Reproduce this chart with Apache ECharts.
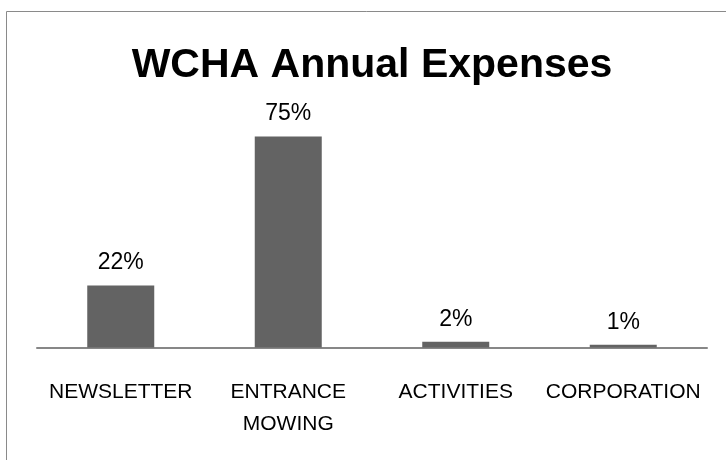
<!DOCTYPE html>
<html>
<head>
<meta charset="utf-8">
<script src="https://cdn.jsdelivr.net/npm/echarts@6/dist/echarts.min.js"></script>
<style>
  html, body { margin: 0; padding: 0; background: #fff; }
  #chart { width: 726px; height: 460px; }
</style>
</head>
<body>
<div id="chart"></div>
<script>
const categories = ['NEWSLETTER', 'ENTRANCE\nMOWING', 'ACTIVITIES', 'CORPORATION'];
const expenseShares = [22, 75, 2, 1];

const font = '"Liberation Sans", Arial, sans-serif';
const chart = echarts.init(document.getElementById('chart'));

const option = {
  backgroundColor: '#ffffff',
  animation: false,
  title: {
    text: 'WCHA Annual Expenses',
    left: 367,
    textAlign: 'center',
    top: 40,
    textStyle: {
      fontFamily: font,
      fontSize: 41,
      fontWeight: 'bold',
      color: '#000'
    }
  },
  // outer chart frame, cut off by the picture on the right and bottom
  graphic: [{
    type: 'rect',
    shape: { x: 6.5, y: 11.5, width: 900, height: 600 },
    style: { fill: 'none', stroke: '#8a8a8a', lineWidth: 1 },
    silent: true
  }],
  grid: {
    left: 37,
    right: 19,
    top: 136.5,
    bottom: 112.5,
    containLabel: false
  },
  xAxis: {
    type: 'category',
    data: categories,
    axisLine: {
      show: true,
      lineStyle: { color: '#878787', width: 2 }
    },
    axisTick: { show: false },
    axisLabel: {
      margin: 29,
      color: '#000',
      fontFamily: font,
      fontSize: 21,
      lineHeight: 32,
      interval: 0
    }
  },
  yAxis: {
    type: 'value',
    min: 0,
    max: 75,
    show: false,
    splitLine: { show: false }
  },
  series: [{
    type: 'bar',
    data: expenseShares,
    barCategoryGap: '60%',
    itemStyle: { color: '#636363' },
    label: {
      show: true,
      position: 'top',
      distance: 11,
      formatter: '{c}%',
      color: '#000',
      fontFamily: font,
      fontSize: 23
    }
  }]
};

chart.setOption(option);
window.addEventListener('resize', () => {
  chart.resize();
});
</script>
</body>
</html>
